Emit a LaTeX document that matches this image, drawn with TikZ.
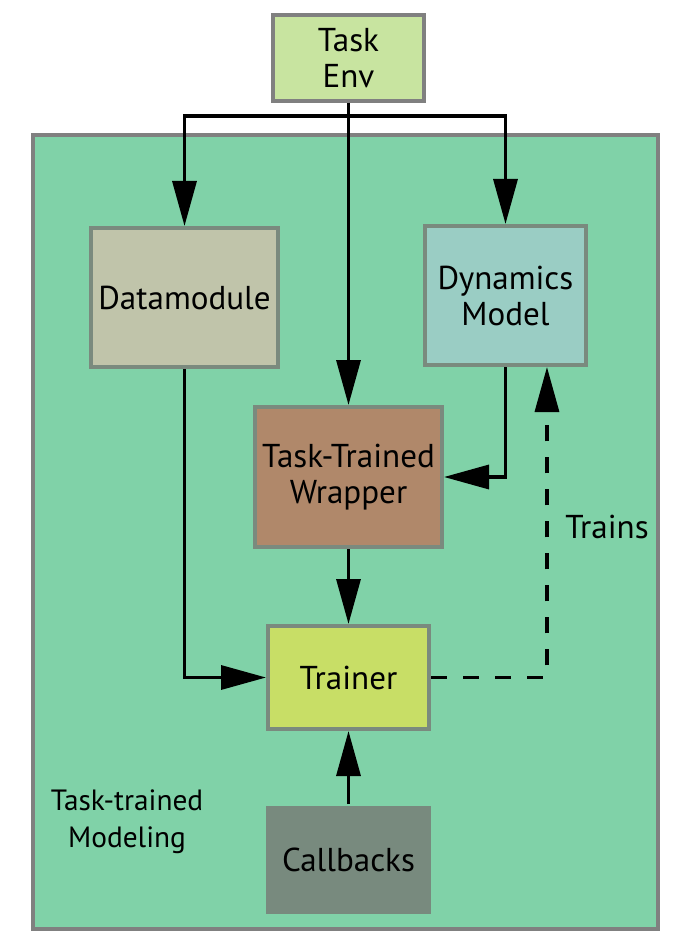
\documentclass[tikz,border=0pt]{standalone}
\usepackage{fontspec}
\setmainfont{PT Sans}
\usetikzlibrary{arrows.meta,calc}
\definecolor{contfill}{HTML}{80D2A8}
\definecolor{contline}{HTML}{808080}
\definecolor{boxline}{HTML}{7A8A7E}
\definecolor{envfill}{HTML}{C8E4A0}
\definecolor{dmfill}{HTML}{C0C4AA}
\definecolor{dyfill}{HTML}{9ACDC4}
\definecolor{wrfill}{HTML}{B0886A}
\definecolor{trfill}{HTML}{C8DE66}
\definecolor{cbfill}{HTML}{788A7E}
\tikzset{
  blk/.style={draw=boxline, line width=3pt, inner sep=0pt, align=center,
    font=\fontsize{24.8}{27}\selectfont},
  conn/.style={line width=2.5pt, -{Triangle[length=33.75pt,width=18pt]}},
  dconn/.style={conn, dash pattern=on 12pt off 12pt},
  lbl/.style={inner sep=0pt, align=center, font=\fontsize{22}{27.75}\selectfont}
}
\begin{document}
\begin{tikzpicture}[x=0.75pt,y=-0.75pt]
\useasboundingbox (0,0) rectangle (676,948);
% container
\node[draw=contline, fill=contfill, line width=3pt, inner sep=0pt,
  minimum width=625*0.75pt, minimum height=794*0.75pt] (cont) at (345.5,532) {};
% boxes
\node[blk, draw=contline, fill=envfill, minimum width=151*0.75pt, minimum height=86*0.75pt] (te) at (348.5,58) {Task\\Env};
\node[blk, fill=dmfill, minimum width=187*0.75pt, minimum height=139*0.75pt] (dm) at (184.5,297.5) {Datamodule};
\node[blk, fill=dyfill, minimum width=161*0.75pt, minimum height=139*0.75pt] (dy) at (505.5,295.5) {Dynamics\\Model};
\node[blk, fill=wrfill, minimum width=187*0.75pt, minimum height=140*0.75pt] (wr) at (348.5,477) {Task-Trained\\Wrapper};
\node[blk, fill=trfill, minimum width=161*0.75pt, minimum height=103*0.75pt] (tr) at (348.5,677.5) {Trainer};
\node[blk, draw=none, fill=cbfill, minimum width=165*0.75pt, minimum height=108*0.75pt] (cb) at (348.5,860) {Callbacks};
% labels
\node[lbl] (ttm) at (127,822) {Task-trained\\Modeling};
\node[inner sep=0pt, anchor=base west, font=\fontsize{24.8}{27}\selectfont] (trn) at (565,538) {Trains};
% junctions
\coordinate (jL) at (184.5,116);
\coordinate (jR) at (505.5,116);
% connectors
\draw[conn] (te.south) -- (wr.north);
\draw[conn] (te.south) |- (jL) -- (dm.north);
\draw[conn] (te.south) |- (jR) -- (dy.north);
\draw[conn] (dm.south) |- (tr.west);
\draw[conn] (dy.south) |- (wr.east);
\draw[conn] (wr.south) -- (tr.north);
\draw[dconn] (tr.east) -| ([xshift=31.1pt]dy.south);
\draw[conn] (cb.north) -- (tr.south);
\end{tikzpicture}
\end{document}
